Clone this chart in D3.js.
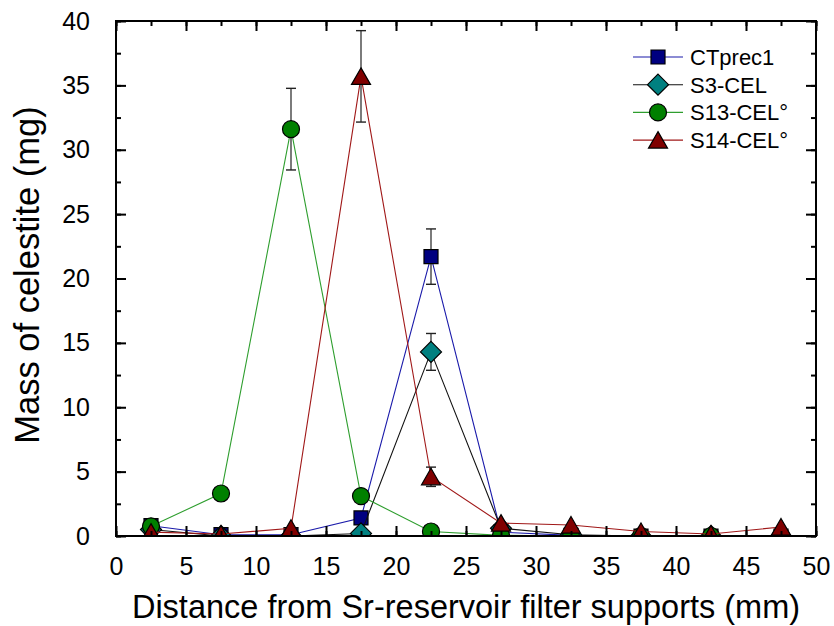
<!DOCTYPE html>
<html>
<head>
<meta charset="utf-8">
<script src="https://cdn.jsdelivr.net/npm/d3@7"></script>
<style>
  html, body { margin: 0; padding: 0; background: #fff; }
  svg { display: block; font-family: "Liberation Sans", Arial, sans-serif; }
</style>
</head>
<body>
<svg id="chart" width="834" height="626"></svg>
<script>
// ---- data ----
const distances = [2.5, 7.5, 12.5, 17.5, 22.5, 27.5, 32.5, 37.5, 42.5, 47.5];
const ctprec1 = [0.8, 0.1, 0.1, 1.4, 21.7, 0.3, 0.05, 0, 0, 0];
const ctprec1Err = [0, 0, 0, 0, 2.15, 0, 0, 0, 0, 0];
const s3cel = [0.5, 0, 0, 0.2, 14.3, 0.6, 0.1, 0, 0, 0];
const s3celErr = [0, 0, 0, 0, 1.43, 0, 0, 0, 0, 0];
const s13cel = [0.75, 3.3, 31.6, 3.1, 0.35, 0.05, 0, 0, 0, 0];
const s13celErr = [0, 0, 3.17, 0, 0, 0, 0, 0, 0, 0];
const s14cel = [0.3, 0.15, 0.6, 35.7, 4.6, 1.0, 0.85, 0.35, 0.15, 0.7];
const s14celErr = [0, 0, 0, 3.55, 0.75, 0, 0, 0, 0, 0];
const seriesNames = ["CTprec1", "S3-CEL", "S13-CEL°", "S14-CEL°"];
const xTicks = [0, 5, 10, 15, 20, 25, 30, 35, 40, 45, 50];
const yTicks = [0, 5, 10, 15, 20, 25, 30, 35, 40];
const xTitle = "Distance from Sr-reservoir filter supports (mm)";
const yTitle = "Mass of celestite (mg)";

const series = [
  { name: seriesNames[0], values: ctprec1, err: ctprec1Err, line: "#1a1aaa", fill: "#000080", shape: "square" },
  { name: seriesNames[1], values: s3cel, err: s3celErr, line: "#111111", fill: "#008080", shape: "diamond" },
  { name: seriesNames[2], values: s13cel, err: s13celErr, line: "#2e9e2e", fill: "#008000", shape: "circle" },
  { name: seriesNames[3], values: s14cel, err: s14celErr, line: "#a01818", fill: "#800000", shape: "triangle" }
];

// ---- layout ----
const svg = d3.select("#chart");
const L = 116, R = 816, T = 21, B = 536;
const x = d3.scaleLinear().domain([0, 50]).range([L, R]);
const y = d3.scaleLinear().domain([0, 40]).range([B, T]);

svg.append("defs").append("clipPath").attr("id", "plotclip")
  .append("rect").attr("x", L).attr("y", T).attr("width", R - L).attr("height", B - T);

function markerPath(shape) {
  if (shape === "square") return "M-7,-7H7V7H-7Z";
  if (shape === "diamond") return "M0,-10.5L10.5,0L0,10.5L-10.5,0Z";
  if (shape === "circle") return d3.symbol(d3.symbolCircle, Math.PI * 8.5 * 8.5)();
  if (shape === "triangle") return "M0,-8.5L9.5,8L-9.5,8Z";
}

// ---- series ----
const plot = svg.append("g").attr("clip-path", "url(#plotclip)");
const lineGen = d3.line().x((d, i) => x(distances[i])).y(d => y(d));

series.forEach(s => {
  const g = plot.append("g");
  g.append("path").datum(s.values)
    .attr("d", lineGen)
    .attr("fill", "none").attr("stroke", s.line).attr("stroke-width", 1.1);
  // error bars
  const eb = s.values.map((v, i) => ({ x: distances[i], v, e: s.err[i] })).filter(d => d.e > 0);
  const ebg = g.selectAll(".eb").data(eb).enter().append("g");
  ebg.append("line")
    .attr("x1", d => x(d.x)).attr("x2", d => x(d.x))
    .attr("y1", d => y(d.v + d.e)).attr("y2", d => y(d.v - d.e))
    .attr("stroke", "#444").attr("stroke-width", 1.4);
  ebg.append("line")
    .attr("x1", d => x(d.x) - 5).attr("x2", d => x(d.x) + 5)
    .attr("y1", d => y(d.v + d.e)).attr("y2", d => y(d.v + d.e))
    .attr("stroke", "#222").attr("stroke-width", 1.4);
  ebg.append("line")
    .attr("x1", d => x(d.x) - 5).attr("x2", d => x(d.x) + 5)
    .attr("y1", d => y(d.v - d.e)).attr("y2", d => y(d.v - d.e))
    .attr("stroke", "#222").attr("stroke-width", 1.4);
  g.selectAll(".m").data(s.values).enter().append("path")
    .attr("d", markerPath(s.shape))
    .attr("transform", (d, i) => `translate(${x(distances[i])},${y(d)})`)
    .attr("fill", s.fill).attr("stroke", "#000").attr("stroke-width", 1.2);
});

// ---- axes (ticks inward on all four sides) ----
const axisStyle = g => {
  g.select(".domain").remove();
  g.selectAll("line").attr("stroke", "#000").attr("stroke-width", 2);
};
const xMinor = d3.range(0, 50.01, 2.5);
const yMinor = d3.range(0, 40.01, 2.5);

// bottom
svg.append("g").attr("transform", `translate(0,${B})`)
  .call(d3.axisBottom(x).tickValues(xMinor).tickSize(-5).tickFormat(""))
  .call(axisStyle);
svg.append("g").attr("transform", `translate(0,${B})`)
  .call(d3.axisBottom(x).tickValues(xTicks).tickSize(-10).tickPadding(21).tickFormat(d3.format("d")))
  .call(axisStyle)
  .selectAll("text").attr("font-size", 25).attr("fill", "#000")
  .attr("font-family", "Liberation Sans, Arial, sans-serif");
// top
svg.append("g").attr("transform", `translate(0,${T})`)
  .call(d3.axisTop(x).tickValues(xMinor).tickSize(-5).tickFormat(""))
  .call(axisStyle);
svg.append("g").attr("transform", `translate(0,${T})`)
  .call(d3.axisTop(x).tickValues(xTicks).tickSize(-10).tickFormat(""))
  .call(axisStyle);
// left
svg.append("g").attr("transform", `translate(${L},0)`)
  .call(d3.axisLeft(y).tickValues(yMinor).tickSize(-5).tickFormat(""))
  .call(axisStyle);
svg.append("g").attr("transform", `translate(${L},0)`)
  .call(d3.axisLeft(y).tickValues(yTicks).tickSize(-10).tickPadding(26).tickFormat(d3.format("d")))
  .call(axisStyle)
  .selectAll("text").attr("font-size", 25).attr("fill", "#000")
  .attr("font-family", "Liberation Sans, Arial, sans-serif");
// right
svg.append("g").attr("transform", `translate(${R},0)`)
  .call(d3.axisRight(y).tickValues(yMinor).tickSize(-5).tickFormat(""))
  .call(axisStyle);
svg.append("g").attr("transform", `translate(${R},0)`)
  .call(d3.axisRight(y).tickValues(yTicks).tickSize(-10).tickFormat(""))
  .call(axisStyle);

// frame
svg.append("rect").attr("x", L).attr("y", T).attr("width", R - L).attr("height", B - T)
  .attr("fill", "none").attr("stroke", "#000").attr("stroke-width", 2);

// ---- titles ----
svg.append("text").attr("x", 466).attr("y", 618)
  .attr("text-anchor", "middle").attr("font-size", 32.5).attr("fill", "#000")
  .text(xTitle);
svg.append("text").attr("transform", `translate(39,${275}) rotate(-90)`)
  .attr("text-anchor", "middle").attr("font-size", 34.5).attr("fill", "#000")
  .text(yTitle);

// ---- legend ----
const leg = svg.append("g");
series.forEach((s, i) => {
  const cy = 57 + i * 27.7;
  leg.append("line").attr("x1", 633).attr("x2", 683).attr("y1", cy).attr("y2", cy)
    .attr("stroke", s.line).attr("stroke-width", 1.1);
  leg.append("path").attr("d", markerPath(s.shape))
    .attr("transform", `translate(658,${cy})`)
    .attr("fill", s.fill).attr("stroke", "#000").attr("stroke-width", 1.2);
  leg.append("text").attr("x", 690).attr("y", cy + 8)
    .attr("font-size", 22).attr("fill", "#000").text(s.name);
});
</script>
</body>
</html>
